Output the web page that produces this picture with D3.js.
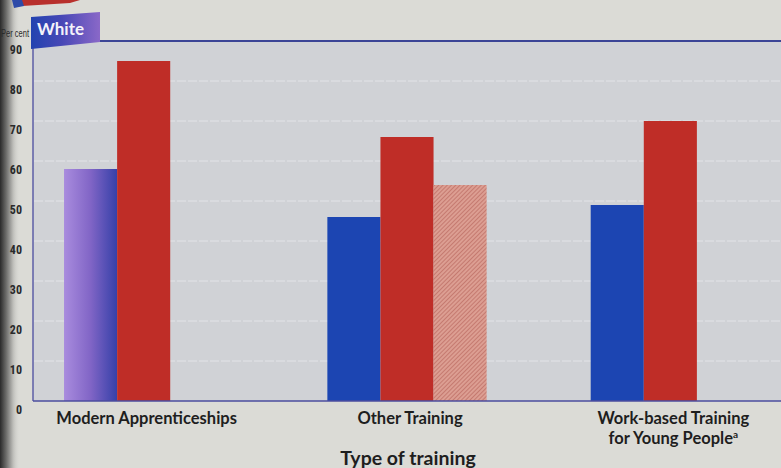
<!DOCTYPE html>
<html>
<head>
<meta charset="utf-8">
<script src="https://cdn.jsdelivr.net/npm/d3@7"></script>
<style>
  html, body { margin: 0; padding: 0; background: #dcdcd7; }
  svg { display: block; }
</style>
</head>
<body>
<svg id="chart" width="781" height="468"></svg>
<script>
// Share of trainees (per cent), White group, by type of training
const categories = ["Modern Apprenticeships", "Other Training", "Work-based Training for Young People"];
const categoryLines = [["Modern Apprenticeships"], ["Other Training"], ["Work-based Training", "for Young People"]];
const footnoteMarks = ["", "", "a"];
const seriesNames = ["First measure", "Second measure", "Third measure"];
const seriesA = [58, 46, 49];
const seriesB = [85, 66, 70];
const seriesC = [null, 54, null];
const yTicks = [0, 10, 20, 30, 40, 50, 60, 70, 80, 90];
const panelTitle = "White";
const yUnit = "Per cent";
const xTitle = "Type of training";

const W = 781, H = 468;
const svg = d3.select("#chart");
const defs = svg.append("defs");

// page gutter shadow on the left edge
const gut = defs.append("linearGradient").attr("id", "gutter").attr("x1", 0).attr("x2", 1).attr("y1", 0).attr("y2", 0);
gut.append("stop").attr("offset", "0%").attr("stop-color", "#2a2a2a");
gut.append("stop").attr("offset", "30%").attr("stop-color", "#6a6a68");
gut.append("stop").attr("offset", "65%").attr("stop-color", "#bcbcb8");
gut.append("stop").attr("offset", "100%").attr("stop-color", "#dbdbd6").attr("stop-opacity", 0);

// tab gradient (blue to violet)
const tabG = defs.append("linearGradient").attr("id", "tabGrad").attr("x1", 0).attr("x2", 1).attr("y1", 0).attr("y2", 0);
tabG.append("stop").attr("offset", "0%").attr("stop-color", "#2243b0");
tabG.append("stop").attr("offset", "45%").attr("stop-color", "#4848b6");
tabG.append("stop").attr("offset", "100%").attr("stop-color", "#8a68c8");

// highlighted bar gradient (violet to blue)
const barG = defs.append("linearGradient").attr("id", "barGrad").attr("x1", 0).attr("x2", 1).attr("y1", 0).attr("y2", 0);
barG.append("stop").attr("offset", "0%").attr("stop-color", "#a98cde");
barG.append("stop").attr("offset", "50%").attr("stop-color", "#8165c6");
barG.append("stop").attr("offset", "100%").attr("stop-color", "#3540a8");

// hatched fill for the third measure
const pat = defs.append("pattern").attr("id", "hatch").attr("patternUnits", "userSpaceOnUse")
  .attr("width", 3).attr("height", 3).attr("patternTransform", "rotate(-45)");
pat.append("rect").attr("width", 3).attr("height", 3).attr("fill", "#dc9e92");
pat.append("rect").attr("width", 3).attr("height", 1).attr("fill", "#c57a70");

// scales
const x0 = d3.scaleBand().domain(categories).range([12, 802]);
const x1 = d3.scaleBand().domain(seriesNames).range([0, x0.bandwidth()]).paddingInner(0).paddingOuter(0.98);
const y = d3.scaleLinear().domain([0, 90]).range([401, 41]);

const plotLeft = 33, plotRight = W;

// background page
svg.append("rect").attr("width", W).attr("height", H).attr("fill", "#dbdbd6");

// gutter shadow
svg.append("rect").attr("x", 0).attr("y", 0).attr("width", 20).attr("height", H).attr("fill", "url(#gutter)");

// plot panel
svg.append("rect")
  .attr("x", plotLeft).attr("y", y(90))
  .attr("width", plotRight - plotLeft).attr("height", y(0) - y(90))
  .attr("fill", "#d0d2d6");

// gridlines
svg.append("g").selectAll("line").data(yTicks.filter(t => t > 0 && t < 90)).join("line")
  .attr("x1", plotLeft + 1).attr("x2", plotRight)
  .attr("y1", d => y(d)).attr("y2", d => y(d))
  .attr("stroke", "#e3e4e8").attr("stroke-width", 1)
  .attr("stroke-dasharray", "9,2");

// bars
const rows = seriesNames.map((s, si) => ({ name: s, values: [seriesA, seriesB, seriesC][si] }));
const fills = ["#1c45b2", "#bf2d27", "url(#hatch)"];
const groups = svg.append("g").selectAll("g").data(categories).join("g")
  .attr("transform", d => `translate(${x0(d)},0)`);
groups.selectAll("rect")
  .data((c, ci) => rows.map((r, si) => ({ series: r.name, si, ci, v: r.values[ci] })).filter(d => d.v != null))
  .join("rect")
  .attr("x", d => x1(d.series))
  .attr("width", x1.bandwidth())
  .attr("y", d => y(d.v))
  .attr("height", d => y(0) - y(d.v))
  .attr("fill", d => (d.si === 0 && d.ci === 0) ? "url(#barGrad)" : fills[d.si]);

// frame lines
svg.append("line").attr("x1", plotLeft).attr("x2", plotLeft).attr("y1", y(90) + 6).attr("y2", y(0))
  .attr("stroke", "#4b4c9e").attr("stroke-width", 1.3);
svg.append("line").attr("x1", plotLeft).attr("x2", plotRight).attr("y1", y(0)).attr("y2", y(0))
  .attr("stroke", "#4b4c9e").attr("stroke-width", 1.6);
svg.append("line").attr("x1", 100).attr("x2", plotRight).attr("y1", y(90)).attr("y2", y(90))
  .attr("stroke", "#3b4596").attr("stroke-width", 2);

// title tab
svg.append("path")
  .attr("d", `M31,17 L100,12 L100,${y(90) + 1} L31,${y(90) + 8} Z`)
  .attr("fill", "url(#tabGrad)");
svg.append("text").attr("x", 37).attr("y", 35)
  .attr("font-family", "Lato, 'Open Sans', sans-serif").attr("font-weight", 700)
  .attr("font-size", 17).attr("fill", "#f4f2fa").text(panelTitle);

// y axis labels
const yAxis = d3.axisLeft(y).tickValues(yTicks).tickSize(0).tickPadding(11).tickFormat(d3.format("d"));
const ya = svg.append("g").attr("transform", `translate(${plotLeft},9)`).call(yAxis);
ya.select(".domain").remove();
ya.selectAll("text")
  .attr("font-family", "'Liberation Sans Narrow', 'Roboto Condensed', 'Arial Narrow', sans-serif")
  .attr("font-size", 12).attr("font-weight", 700).attr("fill", "#2a2a2a");

// unit label, squeezed into the strip left of the tab
svg.append("text").attr("x", 1).attr("y", 37).attr("text-anchor", "start")
  .attr("font-family", "'Liberation Sans Narrow', sans-serif").attr("font-size", 10)
  .attr("textLength", 28).attr("lengthAdjust", "spacingAndGlyphs")
  .attr("fill", "#2a2a2a").text(yUnit);

// category labels
const catText = svg.append("g").selectAll("text").data(categories).join("text")
  .attr("text-anchor", "middle")
  .attr("font-family", "Lato, 'Open Sans', sans-serif").attr("font-weight", 700)
  .attr("font-size", 16.5).attr("fill", "#1e1e1e")
  .attr("transform", d => `translate(${x0(d) + x0.bandwidth() / 2 + 3},0)`);
catText.each(function (d, i) {
  const t = d3.select(this);
  categoryLines[i].forEach((line, li) => {
    t.append("tspan").attr("x", 0).attr("y", 424 + li * 20).text(line);
    if (li === categoryLines[i].length - 1 && footnoteMarks[i]) {
      t.append("tspan").attr("dy", -6).attr("font-size", 10).text(footnoteMarks[i]);
    }
  });
});

// x axis title
svg.append("text").attr("x", x0(categories[1]) + x0.bandwidth() / 2 + 1).attr("y", 465)
  .attr("text-anchor", "middle")
  .attr("font-family", "Lato, 'Open Sans', sans-serif").attr("font-weight", 700)
  .attr("font-size", 19.5).attr("fill", "#1e1e1e").text(xTitle);

// coloured edge of the neighbouring tab at the top
svg.append("path").attr("d", "M18,0 L80,0 L70,3 L22,6 Z").attr("fill", "#b8302c");
svg.append("path").attr("d", "M12,0 L22,0 L24,6 L14,8 Z").attr("fill", "#2d4aa8");
</script>
</body>
</html>
